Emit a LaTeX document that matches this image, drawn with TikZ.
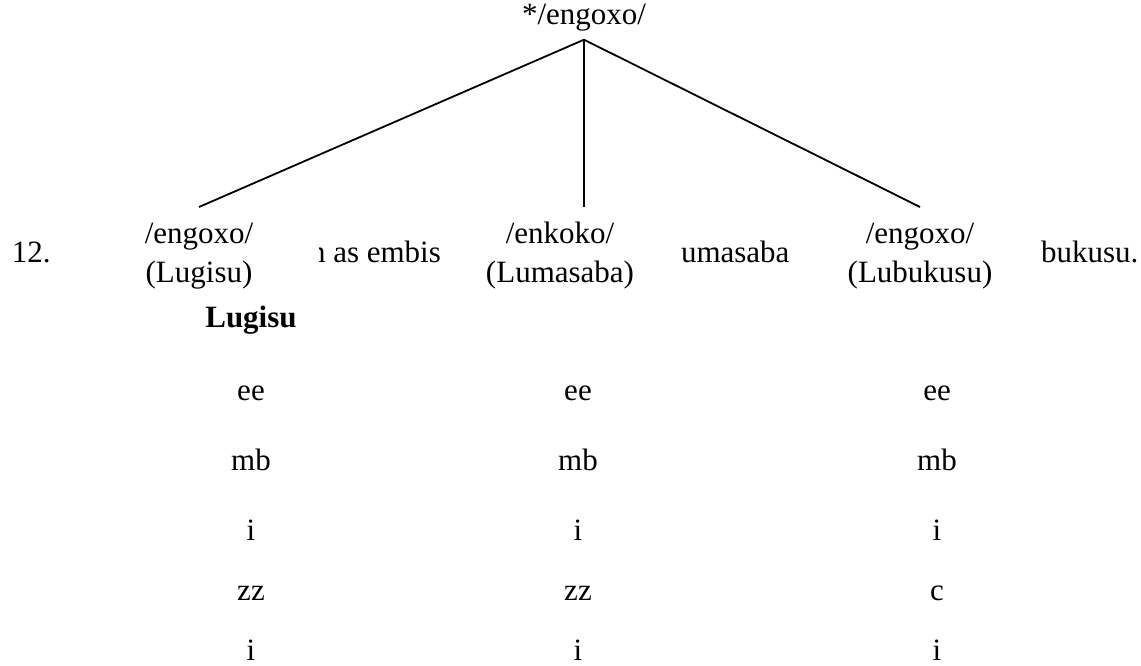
\documentclass[tikz,border=0pt]{standalone}
\usepackage{fontspec}
\setmainfont{Liberation Serif}
\begin{document}
\begin{tikzpicture}[x=1pt,y=-1pt,
  txt/.style={inner sep=0pt,outer sep=0pt,font=\fontsize{31}{39}\selectfont},
  langbox/.style={txt,fill=white,minimum width=240pt,minimum height=98pt,align=center,anchor=north},
  branch/.style={line width=1.8pt}]
\useasboundingbox (0,0) rectangle (1141,666);
% background sentence fragments
\node[txt,anchor=base west] (num) at (12,262) {12.};
\node[txt,anchor=base west] (fragA) at (310,262) {n as embisi};
\node[txt,anchor=base west] (fragB) at (681,262) {umasaba};
\node[txt,anchor=base west] (fragC) at (1041,262) {bukusu.};
% root
\node[txt,anchor=base,inner ysep=8pt] (root) at (584,25) {*/engoxo/};
% daughters
\node[langbox] (l) at (199,207) {/engoxo/\\(Lugisu)};
\node[langbox] (m) at (560,207) {/enkoko/\\(Lumasaba)};
\node[langbox] (r) at (920,207) {/engoxo/\\(Lubukusu)};
\draw[branch] (root.south) -- (l.north);
\draw[branch] (root.south) -- (root.south |- m.north);
\draw[branch] (root.south) -- (r.north);
% heading
\node[txt,anchor=base,font=\fontsize{31}{39}\selectfont\bfseries] (head) at (251,327) {Lugisu};
% columns
\node[txt,anchor=base] (a1) at (251,400) {ee};
\node[txt,anchor=base] (a2) at (251,470) {mb};
\node[txt,anchor=base] (a3) at (251,540) {i};
\node[txt,anchor=base] (a4) at (251,600) {zz};
\node[txt,anchor=base] (a5) at (251,660) {i};
\node[txt,anchor=base] (b1) at (578,400) {ee};
\node[txt,anchor=base] (b2) at (578,470) {mb};
\node[txt,anchor=base] (b3) at (578,540) {i};
\node[txt,anchor=base] (b4) at (578,600) {zz};
\node[txt,anchor=base] (b5) at (578,660) {i};
\node[txt,anchor=base] (c1) at (937,400) {ee};
\node[txt,anchor=base] (c2) at (937,470) {mb};
\node[txt,anchor=base] (c3) at (937,540) {i};
\node[txt,anchor=base] (c4) at (937,600) {c};
\node[txt,anchor=base] (c5) at (937,660) {i};
\end{tikzpicture}
\end{document}
